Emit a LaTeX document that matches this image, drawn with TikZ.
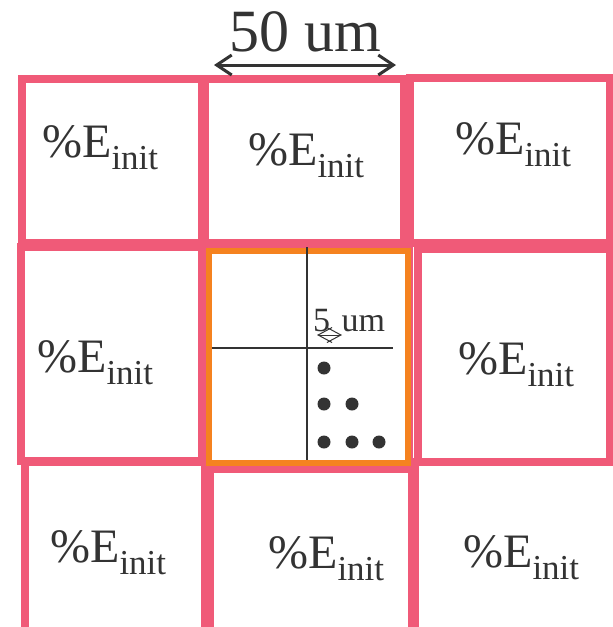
\documentclass[tikz,border=0pt]{standalone}
\usepackage{fontspec}
\setmainfont{Liberation Serif}
\usetikzlibrary{arrows.meta}
\definecolor{cellpink}{HTML}{F05A78}
\definecolor{coreorange}{HTML}{F5821F}
\definecolor{inkgray}{HTML}{333333}
\newcommand{\einit}{\%E\raisebox{-12pt}{\fontsize{35}{35}\selectfont init}}

\begin{document}
\begin{tikzpicture}[x=1pt,y=-1pt,
  cell/.style={draw=cellpink,line width=8pt},
  core/.style={draw=coreorange,line width=6pt},
  hair/.style={draw=inkgray,line width=1.5pt},
  spot/.style={fill=inkgray},
  lbl/.style={anchor=base west,inner sep=0pt,text=inkgray,font=\fontsize{48}{48}\selectfont},
  dimlbl/.style={anchor=base west,inner sep=0pt,text=inkgray},
  dimarrow/.style={draw=inkgray,{Straight Barb[length=15pt,width=20pt]}-{Straight Barb[length=15pt,width=20pt]}},
  smallarrow/.style={draw=inkgray,line width=1pt,{Straight Barb[length=14pt,width=15pt]}-{Straight Barb[length=14pt,width=15pt]}}]
\useasboundingbox (0,0) rectangle (613,627);
\clip (0,0) rectangle (613,627);
% grid of cells
\draw[cell] (22,79) rectangle (202,243);
\draw[cell] (205,79) rectangle (404,243);
\draw[cell] (410,78) rectangle (610,243);
\draw[cell] (21,247) rectangle (202,461);
\draw[cell] (205,247) rectangle (409,465);
\draw[cell] (418,249) rectangle (610,462);
\draw[cell] (25,462) rectangle (205,640);
\draw[cell] (210,469) rectangle (412,640);
\draw[cell] (415,462) rectangle (620,640);
\draw[core] (209,251) rectangle (408,463);
% labels
\node[lbl] (tl) at (42,157) {\einit};
\node[lbl] (tm) at (248,165) {\einit};
\node[lbl] (tr) at (455,154) {\einit};
\node[lbl] (ml) at (37,372) {\einit};
\node[lbl] (mr) at (458,374) {\einit};
\node[lbl] (bl) at (50,562) {\einit};
\node[lbl] (bm) at (268,568) {\einit};
\node[lbl] (br) at (463,567) {\einit};
% scale bar on top
\node[dimlbl,font=\fontsize{60}{60}\selectfont] (big) at (229,51) {50 um};
\coordinate (bigL) at (214,65);
\coordinate (bigR) at (396,65);
\draw[dimarrow,line width=3pt] (bigL) -- (bigR);
% centre cell
\coordinate (vtop) at (307,247);
\coordinate (vbot) at (307,460);
\coordinate (hleft) at (212,348);
\coordinate (hright) at (393,348);
\draw[hair] (vtop) -- (vbot);
\draw[hair] (hleft) -- (hright);
\node[dimlbl,font=\fontsize{34}{34}\selectfont] (small) at (313,331) {5\,\,um};
\coordinate (smallL) at (317,335);
\coordinate (smallR) at (342,335);
\draw[smallarrow] (smallL) -- (smallR);
\foreach \px/\py in {324/368, 324/404, 352/404, 324/442, 352/442, 379/442}
  \fill[spot] (\px,\py) circle (6.5pt);
\end{tikzpicture}
\end{document}
